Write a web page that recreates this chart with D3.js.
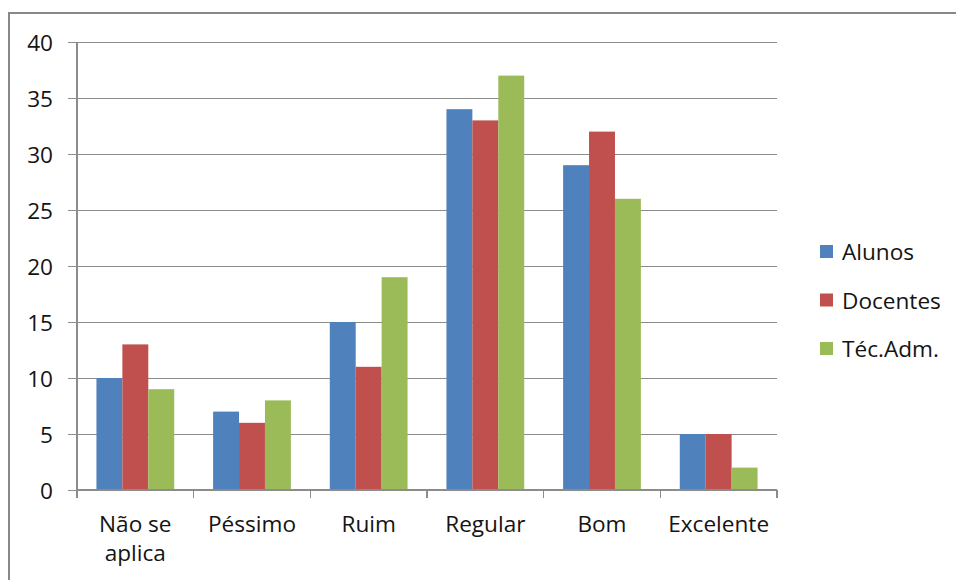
<!DOCTYPE html>
<html>
<head>
<meta charset="utf-8">
<script src="https://cdn.jsdelivr.net/npm/d3@7"></script>
<style>
  html, body { margin: 0; padding: 0; background: #fff; }
  svg { display: block; }
  text { font-family: "Open Sans", "Noto Sans", sans-serif; fill: #141414; }
</style>
</head>
<body>
<svg id="chart" width="956" height="580"></svg>
<script>
// Avaliação por categoria de resposta
const categories = ["Não se aplica", "Péssimo", "Ruim", "Regular", "Bom", "Excelente"];
const categoryLines = [["Não se", "aplica"], ["Péssimo"], ["Ruim"], ["Regular"], ["Bom"], ["Excelente"]];
const seriesNames = ["Alunos", "Docentes", "Téc.Adm."];
const alunos   = [10, 7, 15, 34, 29, 5];
const docentes = [13, 6, 11, 33, 32, 5];
const tecAdm   = [9, 8, 19, 37, 26, 2];
const yTicks = [0, 5, 10, 15, 20, 25, 30, 35, 40];
const colors = ["#4F81BD", "#C0504D", "#9BBB59"];

const seriesValues = [alunos, docentes, tecAdm];

const svg = d3.select("#chart");
const fontSize = 22.6;

// outer chart frame
svg.append("rect")
  .attr("x", 9).attr("y", 13)
  .attr("width", 1000).attr("height", 700)
  .attr("fill", "none")
  .attr("stroke", "#888")
  .attr("stroke-width", 2);

const plot = { left: 77, right: 777, top: 42, bottom: 490 };

const x = d3.scaleBand()
  .domain(categories)
  .range([plot.left, plot.right])
  .paddingInner(0).paddingOuter(0);

// three bars per group, 150% gap width between groups
const barW = x.bandwidth() / 4.5;
const xInner = d3.scaleBand()
  .domain(seriesNames)
  .range([barW * 0.75, x.bandwidth() - barW * 0.75]);

const y = d3.scaleLinear()
  .domain([0, 40])
  .range([plot.bottom, plot.top]);

// horizontal gridlines with left tick stubs
const yAxis = d3.axisLeft(y)
  .tickValues(yTicks)
  .tickSize(-(plot.right - plot.left))
  .tickFormat(d3.format("d"))
  .tickPadding(0);

const gy = svg.append("g")
  .attr("transform", `translate(${plot.left},0)`)
  .call(yAxis);
gy.select(".domain").remove();
gy.selectAll(".tick line")
  .attr("x1", -9)
  .attr("stroke", "#8c8c8c")
  .attr("stroke-width", 1.3)
  .attr("shape-rendering", "crispEdges");
gy.selectAll(".tick text")
  .attr("x", 53 - plot.left)
  .attr("dy", "0.36em")
  .attr("font-size", fontSize)
  .attr("font-family", "Open Sans")
  .attr("fill", "#141414");

// bars
const groups = svg.append("g")
  .selectAll("g")
  .data(categories)
  .join("g")
  .attr("transform", d => `translate(${x(d)},0)`);

groups.selectAll("rect")
  .data((d, i) => seriesNames.map((s, j) => ({ s, v: seriesValues[j][i], j })))
  .join("rect")
  .attr("x", d => xInner(d.s))
  .attr("width", xInner.bandwidth())
  .attr("y", d => y(d.v))
  .attr("height", d => y(0) - y(d.v))
  .attr("fill", d => colors[d.j]);

// vertical axis line
svg.append("line")
  .attr("x1", plot.left).attr("x2", plot.left)
  .attr("y1", plot.top).attr("y2", plot.bottom)
  .attr("stroke", "#8c8c8c").attr("stroke-width", 1.3)
  .attr("shape-rendering", "crispEdges");

// category axis with boundary ticks
const gx = svg.append("g")
  .attr("transform", `translate(0,${plot.bottom})`);
gx.append("line")
  .attr("x1", plot.left).attr("x2", plot.right)
  .attr("stroke", "#8c8c8c").attr("stroke-width", 1.3)
  .attr("shape-rendering", "crispEdges");
const boundaries = categories.map(c => x(c)).concat([plot.right]);
gx.selectAll("line.b")
  .data(boundaries)
  .join("line")
  .attr("class", "b")
  .attr("x1", d => d).attr("x2", d => d)
  .attr("y1", 0).attr("y2", 8)
  .attr("stroke", "#8c8c8c").attr("stroke-width", 1.3)
  .attr("shape-rendering", "crispEdges");

gx.selectAll("text")
  .data(categories)
  .join("text")
  .attr("x", d => x(d) + x.bandwidth() / 2)
  .attr("y", 42)
  .attr("text-anchor", "middle")
  .attr("font-size", fontSize)
  .each(function (d, i) {
    const t = d3.select(this);
    categoryLines[i].forEach((line, k) => {
      t.append("tspan")
        .attr("x", x(d) + x.bandwidth() / 2)
        .attr("dy", k === 0 ? 0 : 29)
        .text(line);
    });
  });

// legend
const legend = svg.append("g")
  .selectAll("g")
  .data(seriesNames)
  .join("g")
  .attr("transform", (d, i) => `translate(820,${252 + i * 48.5})`);
legend.append("rect")
  .attr("x", 0).attr("y", -7)
  .attr("width", 13).attr("height", 13)
  .attr("fill", (d, i) => colors[i]);
legend.append("text")
  .attr("x", 22).attr("y", 0)
  .attr("dy", "0.36em")
  .attr("font-size", fontSize)
  .text(d => d);
</script>
</body>
</html>
